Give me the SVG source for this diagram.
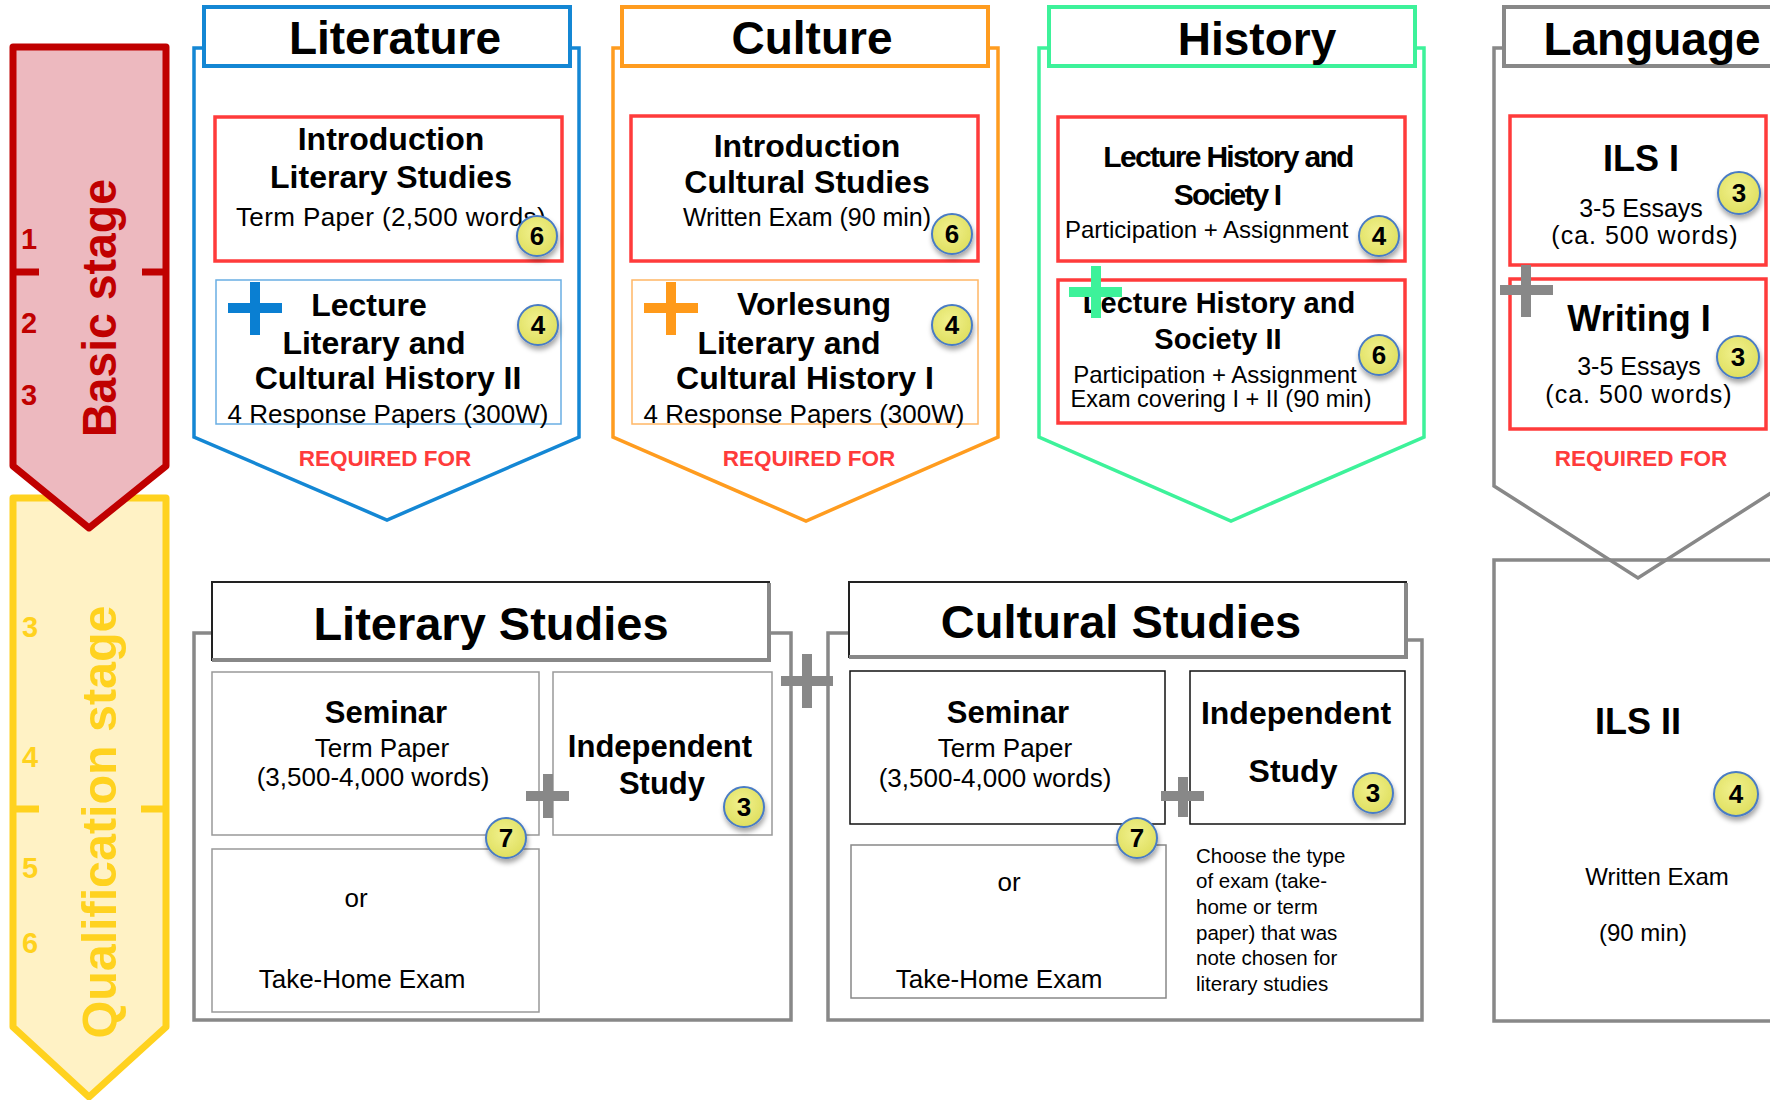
<svg xmlns="http://www.w3.org/2000/svg" width="1770" height="1100" viewBox="0 0 1770 1100">
<defs>
<style>
text{font-family:"Liberation Sans",Arial,sans-serif;fill:#000}
.hd{font-size:46px;font-weight:bold;text-anchor:middle}
.t32{font-size:32px;font-weight:bold;text-anchor:middle}
.t31{font-size:31px;font-weight:bold;text-anchor:middle}
.r26{font-size:26px;text-anchor:middle}
.r25{font-size:25px;text-anchor:middle}
.req{font-size:22.5px;font-weight:bold;fill:#FF3B3B;text-anchor:middle}
.redbox{fill:none;stroke:#FF3B3B;stroke-width:3.5}
.frame{fill:none;stroke:#888;stroke-width:3.5}
.thin{fill:none;stroke-width:1.5}
.badge circle{fill:url(#bg);stroke:#4A7CC4;stroke-width:2;filter:url(#sh)}
.badge text{font-size:26px;font-weight:bold;text-anchor:middle}
.plus{fill:none;stroke-width:10}
.note{font-size:20.5px}
.stage{font-size:48px;font-weight:bold;text-anchor:middle}
.num{font-size:29px;font-weight:bold;text-anchor:middle}
</style>
<radialGradient id="bg" cx="0.45" cy="0.4" r="0.65">
<stop offset="0" stop-color="#F1F18E"/>
<stop offset="1" stop-color="#DEDE5C"/>
</radialGradient>
<filter id="sh" x="-60%" y="-60%" width="220%" height="220%">
<feDropShadow dx="1" dy="4" stdDeviation="2.5" flood-color="#000" flood-opacity="0.35"/>
</filter>
</defs>
<rect width="1770" height="1100" fill="#fff"/>

<g id="qualification-stage">
<path d="M13,498 H166 V1027 L89,1097 L13,1027 Z" fill="#FFF2C5" stroke="#FFD21F" stroke-width="7" stroke-linejoin="round"/>
<path d="M13,809 H39 M141,809 H166" stroke="#FFD21F" stroke-width="7"/>
<text class="num" x="30" y="637" style="fill:#FFD21F">3</text>
<text class="num" x="30" y="767" style="fill:#FFD21F">4</text>
<text class="num" x="30" y="878" style="fill:#FFD21F">5</text>
<text class="num" x="30" y="953" style="fill:#FFD21F">6</text>
<text class="stage" transform="translate(116,822) rotate(-90)" style="fill:#FFD21F" textLength="433" lengthAdjust="spacingAndGlyphs">Qualification stage</text>
</g>

<g id="basic-stage">
<path d="M13,47 H166 V466 L89,528 L13,466 Z" fill="#EDB9BF" stroke="#C00000" stroke-width="7" stroke-linejoin="round"/>
<path d="M13,272 H39 M142,272 H166" stroke="#C00000" stroke-width="7"/>
<text class="num" x="29" y="249" style="fill:#C00000">1</text>
<text class="num" x="29" y="333" style="fill:#C00000">2</text>
<text class="num" x="29" y="405" style="fill:#C00000">3</text>
<text class="stage" transform="translate(116,308) rotate(-90)" style="fill:#C00000" textLength="258" lengthAdjust="spacingAndGlyphs">Basic stage</text>
</g>

<g id="literature">
<path d="M204,48 H194 V437 L387,520 L579,437 V48 H570" fill="none" stroke="#1487D4" stroke-width="3.5"/>
<rect x="204" y="7" width="366" height="59" fill="#fff" stroke="#1487D4" stroke-width="4"/>
<text class="hd" x="395" y="54">Literature</text>
<rect class="redbox" x="215" y="117" width="347" height="144"/>
<text class="t32" x="391" y="150">Introduction</text>
<text class="t32" x="391" y="188">Literary Studies</text>
<text class="r26" x="391" y="226" letter-spacing="0.4">Term Paper (2,500 words)</text>
<rect class="thin" x="216" y="280" width="345" height="144" stroke="#6AAEE3"/>
<text class="t32" x="369" y="316">Lecture</text>
<text class="t32" x="374" y="354">Literary and</text>
<text class="t32" x="388" y="389">Cultural History II</text>
<text class="r26" x="388" y="423">4 Response Papers (300W)</text>
<text class="req" x="385" y="466">REQUIRED FOR</text>
<g class="badge"><circle cx="537" cy="236" r="20"/><text x="537" y="245">6</text></g>
<g class="badge"><circle cx="538" cy="325" r="20"/><text x="538" y="334">4</text></g>
</g>

<g id="culture">
<path d="M622,48 H613 V437 L806,521 L998,437 V48 H988" fill="none" stroke="#FF9C1F" stroke-width="3.5"/>
<rect x="622" y="7" width="366" height="59" fill="#fff" stroke="#FF9C1F" stroke-width="4"/>
<text class="hd" x="812" y="54">Culture</text>
<rect class="redbox" x="631" y="116" width="347" height="145"/>
<text class="t32" x="807" y="157">Introduction</text>
<text class="t32" x="807" y="193">Cultural Studies</text>
<text class="r26" x="807" y="226" style="font-size:25px">Written Exam (90 min)</text>
<rect class="thin" x="632" y="280" width="346" height="144" stroke="#FFB766"/>
<text class="t32" x="814" y="315">Vorlesung</text>
<text class="t32" x="789" y="354">Literary and</text>
<text class="t32" x="805" y="389">Cultural History I</text>
<text class="r26" x="804" y="423">4 Response Papers (300W)</text>
<text class="req" x="809" y="466">REQUIRED FOR</text>
<g class="badge"><circle cx="952" cy="234" r="20"/><text x="952" y="243">6</text></g>
<g class="badge"><circle cx="952" cy="325" r="20"/><text x="952" y="334">4</text></g>
</g>

<g id="history">
<path d="M1049,48 H1039 V437 L1231,521 L1424,437 V48 H1415" fill="none" stroke="#3DF29A" stroke-width="3.5"/>
<rect x="1049" y="7" width="366" height="59" fill="#fff" stroke="#3DF29A" stroke-width="4"/>
<text class="hd" x="1257" y="55">History</text>
<rect class="redbox" x="1058" y="117" width="347" height="144"/>
<text x="1228" y="167" style="font-size:30px;font-weight:bold;text-anchor:middle" letter-spacing="-1.7">Lecture History and</text>
<text x="1227" y="205" style="font-size:30px;font-weight:bold;text-anchor:middle" letter-spacing="-1.9">Society I</text>
<text x="1065" y="238" style="font-size:24px">Participation + Assignment</text>
<rect class="redbox" x="1058" y="280" width="347" height="143"/>
<text x="1219" y="313" style="font-size:29px;font-weight:bold;text-anchor:middle">Lecture History and</text>
<text x="1218" y="349" style="font-size:29px;font-weight:bold;text-anchor:middle">Society II</text>
<text x="1215" y="383" style="font-size:24px;text-anchor:middle">Participation + Assignment</text>
<text x="1221" y="407" style="font-size:23.5px;text-anchor:middle">Exam covering I + II (90 min)</text>
<g class="badge"><circle cx="1379" cy="236" r="20"/><text x="1379" y="245">4</text></g>
<g class="badge"><circle cx="1379" cy="355" r="20"/><text x="1379" y="364">6</text></g>
</g>

<g id="language">
<path d="M1504,48 H1494 V486 L1638,578 L1782,486" fill="none" stroke="#888" stroke-width="3.5"/>
<rect x="1504" y="7" width="300" height="59" fill="#fff" stroke="#888" stroke-width="4"/>
<text class="hd" x="1652" y="55">Language</text>
<rect class="redbox" x="1510" y="116" width="256" height="149"/>
<text x="1641" y="171" style="font-size:36px;font-weight:bold;text-anchor:middle">ILS I</text>
<text class="r25" x="1641" y="217">3-5 Essays</text>
<text class="r25" x="1645" y="244" letter-spacing="1">(ca. 500 words)</text>
<rect class="redbox" x="1510" y="279" width="256" height="150"/>
<text x="1639" y="331" style="font-size:36px;font-weight:bold;text-anchor:middle">Writing I</text>
<text class="r25" x="1639" y="375">3-5 Essays</text>
<text class="r25" x="1639" y="403" letter-spacing="1">(ca. 500 words)</text>
<text class="req" x="1641" y="466">REQUIRED FOR</text>
<g class="badge"><circle cx="1739" cy="193" r="21"/><text x="1739" y="202">3</text></g>
<g class="badge"><circle cx="1738" cy="357" r="21"/><text x="1738" y="366">3</text></g>
</g>

<g id="ils-ii">
<rect class="frame" x="1494" y="560" width="300" height="461"/>
<text x="1638" y="734" style="font-size:36px;font-weight:bold;text-anchor:middle">ILS II</text>
<text x="1657" y="885" style="font-size:24px;text-anchor:middle">Written Exam</text>
<text x="1643" y="941" style="font-size:24px;text-anchor:middle">(90 min)</text>
<g class="badge"><circle cx="1736" cy="794" r="22"/><text x="1736" y="803">4</text></g>
</g>

<g id="literary-studies">
<path class="frame" d="M212,633 H194 V1020 H791 V633 H769"/>
<rect x="212" y="582" width="557" height="78" fill="#fff" stroke="#222" stroke-width="2"/>
<path d="M769,583 V660 H212" fill="none" stroke="#888" stroke-width="4"/>
<text class="hd" x="491" y="640" style="font-size:47px">Literary Studies</text>
<rect class="thin" x="212" y="672" width="327" height="163" stroke="#999"/>
<text class="t31" x="386" y="723">Seminar</text>
<text class="r26" x="382" y="757">Term Paper</text>
<text class="r26" x="373" y="786">(3,500-4,000 words)</text>
<rect class="thin" x="212" y="849" width="327" height="163" stroke="#999"/>
<text class="r26" x="356" y="907">or</text>
<text class="r26" x="362" y="988">Take-Home Exam</text>
<rect class="thin" x="553" y="672" width="219" height="163" stroke="#999"/>
<text class="t31" x="660" y="757">Independent</text>
<text class="t31" x="662" y="794">Study</text>
<g class="badge"><circle cx="506" cy="838" r="20"/><text x="506" y="847">7</text></g>
<g class="badge"><circle cx="744" cy="807" r="20"/><text x="744" y="816">3</text></g>
</g>

<g id="cultural-studies">
<path class="frame" d="M849,633 H828 V1020 H1422 V640 H1406"/>
<rect x="849" y="582" width="557" height="75" fill="#fff" stroke="#222" stroke-width="2"/>
<path d="M1406,583 V657 H849" fill="none" stroke="#888" stroke-width="4"/>
<text class="hd" x="1121" y="638" style="font-size:47px">Cultural Studies</text>
<rect class="thin" x="850" y="671" width="315" height="153" stroke="#111"/>
<text class="t31" x="1008" y="723">Seminar</text>
<text class="r26" x="1005" y="757">Term Paper</text>
<text class="r26" x="995" y="787">(3,500-4,000 words)</text>
<rect class="thin" x="851" y="845" width="315" height="153" stroke="#888" stroke-width="2"/>
<text class="r26" x="1009" y="891">or</text>
<text class="r26" x="999" y="988">Take-Home Exam</text>
<rect class="thin" x="1190" y="671" width="215" height="153" stroke="#111"/>
<text class="t31" x="1296" y="724" style="font-size:32px">Independent</text>
<text class="t31" x="1293" y="782" style="font-size:32px">Study</text>
<text class="note" x="1196" y="863">Choose the type</text>
<text class="note" x="1196" y="888">of exam (take-</text>
<text class="note" x="1196" y="914">home or term</text>
<text class="note" x="1196" y="940">paper) that was</text>
<text class="note" x="1196" y="965">note chosen for</text>
<text class="note" x="1196" y="991">literary studies</text>
<g class="badge"><circle cx="1137" cy="838" r="20"/><text x="1137" y="847">7</text></g>
<g class="badge"><circle cx="1373" cy="793" r="20"/><text x="1373" y="802">3</text></g>
</g>

<g id="connectors">
<path class="plus" stroke="#0A7FD2" d="M228,308 H282 M255,282 V335"/>
<path class="plus" stroke="#FF9A1A" d="M644,308 H698 M671,282 V335"/>
<path class="plus" stroke="#3DF29A" d="M1069,292 H1122 M1096,266 V318"/>
<path class="plus" stroke="#888" d="M1500,290 H1553 M1526,265 V317"/>
<path class="plus" stroke="#888" stroke-width="8" d="M526,796 H569 M548,774 V818"/>
<path class="plus" stroke="#888" stroke-width="8" d="M1161,796 H1204 M1183,777 V817"/>
<path class="plus" stroke="#888" d="M781,681 H833 M807,654 V708"/>
</g>
</svg>
